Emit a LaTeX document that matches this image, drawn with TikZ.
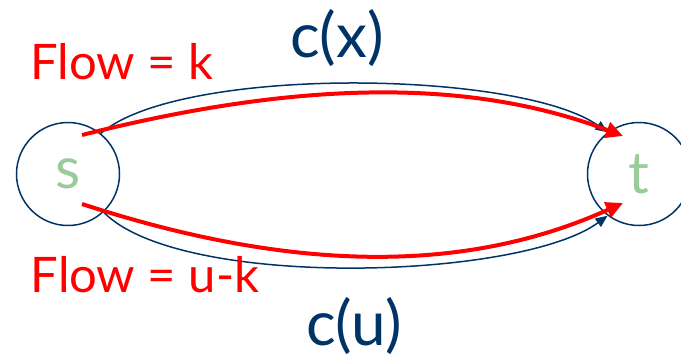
\documentclass[tikz,border=0pt]{standalone}
\usepackage{fontspec}
\setmainfont{Lato}
\usetikzlibrary{calc, positioning}
\usetikzlibrary{arrows.meta}
\definecolor{capblue}{RGB}{0,51,102}
\definecolor{vertgreen}{RGB}{153,204,153}
\tikzset{
  vertex/.style={circle, draw=capblue, line width=1.5pt, minimum size=103pt, inner sep=0pt,
    text=vertgreen, font=\fontsize{58}{60}\selectfont},
  capedge/.style={draw=capblue, line width=1.5pt, -{Triangle[length=12pt,width=10pt]}},
  flowedge/.style={draw=red, line width=4pt, -{Triangle[length=17pt,width=16pt]}},
  flowlabel/.style={text=red, font=\fontsize{49}{52}\selectfont},
  caplabel/.style={text=capblue, font=\fontsize{62}{64}\selectfont}
}
\begin{document}
\begin{tikzpicture}[x=1pt,y=-1pt]
\useasboundingbox (0,0) rectangle (681,359);

\node[vertex] (s) at (68,174) {s};
\node[vertex] (t) at (639,174) {t};

\coordinate (s1) at (82,135);
\coordinate (s2) at (82,204);
\coordinate (t1) at (623,136);
\coordinate (t2) at (623,203);

\draw[capedge] (s.51) .. controls (180,65) and (520,70) .. (t.127);
\draw[capedge] (s.-47) .. controls (180,290) and (520,280) .. (t.233);

\draw[flowedge] (s1) .. controls (300,80) and (470,78) .. (t1);
\draw[flowedge] (s2) .. controls (300,275) and (470,272) .. (t2);

\node[flowlabel] (fk) at (122,62) {Flow = k};
\node[flowlabel] (fuk) at (145,275) {Flow = u-k};
\node[caplabel] (cx) at (337,38) {c(x)};
\node[caplabel] (cu) at (354,326) {c(u)};
\end{tikzpicture}
\end{document}
